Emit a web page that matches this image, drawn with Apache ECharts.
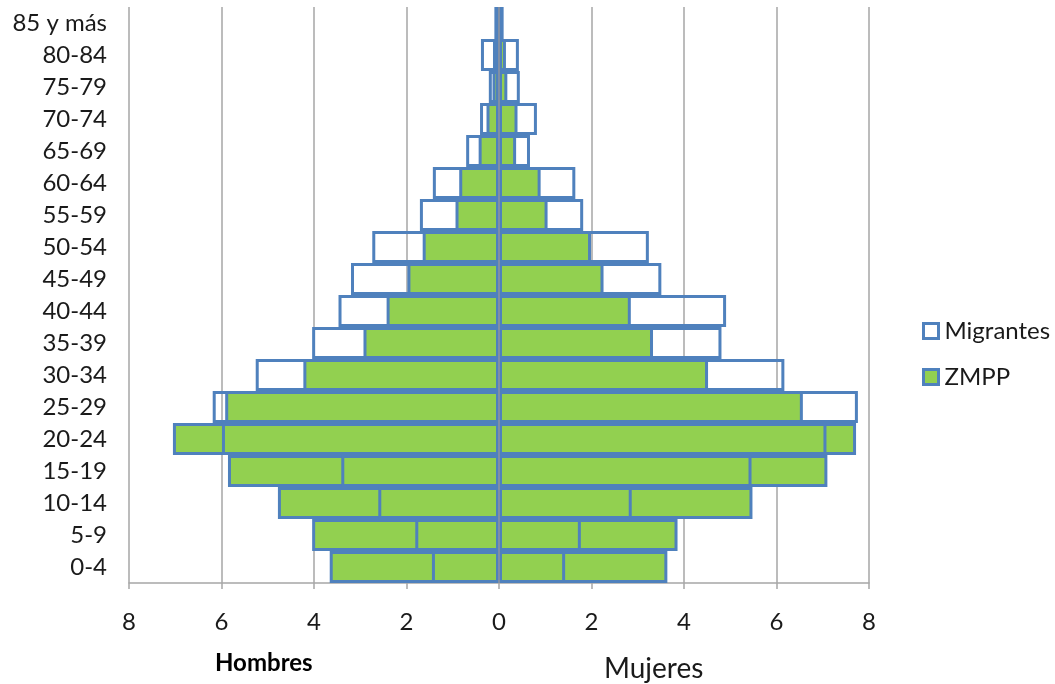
<!DOCTYPE html>
<html>
<head>
<meta charset="utf-8">
<script src="https://cdn.jsdelivr.net/npm/echarts@6/dist/echarts.min.js"></script>
<style>
html,body{margin:0;padding:0;background:#ffffff;}
#chart{width:1055px;height:684px;}
</style>
</head>
<body>
<div id="chart"></div>
<script>
// Age groups, bottom to top
const categories = ['0-4','5-9','10-14','15-19','20-24','25-29','30-34','35-39','40-44','45-49','50-54','55-59','60-64','65-69','70-74','75-79','80-84','85 y más'];
// Percentages
const zmppHombres = [3.66, 4.04, 4.78, 5.86, 7.05, 5.92, 4.23, 2.93, 2.43, 1.98, 1.65, 0.94, 0.86, 0.44, 0.27, 0.14, 0.13, 0.07];
const zmppMujeres = [3.64, 3.86, 5.48, 7.10, 7.72, 6.57, 4.52, 3.33, 2.85, 2.26, 1.99, 1.05, 0.90, 0.37, 0.40, 0.18, 0.15, 0.06];
const migHombres  = [1.45, 1.81, 2.61, 3.41, 5.99, 6.19, 5.26, 4.04, 3.47, 3.20, 2.74, 1.71, 1.43, 0.71, 0.41, 0.22, 0.39, 0.10];
const migMujeres  = [1.43, 1.77, 2.87, 5.46, 7.08, 7.76, 6.17, 4.81, 4.91, 3.51, 3.24, 1.82, 1.65, 0.67, 0.82, 0.45, 0.43, 0.10];
const xTicks = { min: -8, max: 8, interval: 2 };
const seriesNames = ['Migrantes', 'ZMPP'];
const sideLabels = ['Hombres', 'Mujeres'];

const FONT = 'Lato';
const BLUE = '#4f81bd';
const GREEN = '#92d050';
const GRID = '#a6a6a6';

const chart = echarts.init(document.getElementById('chart'), null, {renderer: 'canvas'});

function barSeries(name, data, fill) {
  return {
    name: name,
    type: 'bar',
    data: data,
    barGap: '-100%',
    barCategoryGap: '0%',
    itemStyle: { color: fill, borderColor: BLUE, borderWidth: 3 },
    emphasis: { disabled: true },
    animation: false
  };
}

const option = {
  backgroundColor: '#ffffff',
  animation: false,
  grid: { left: 129, right: 186, top: 7, bottom: 101, containLabel: false },
  legend: {
    data: seriesNames,
    orient: 'vertical',
    left: 917,
    top: 314,
    itemWidth: 15,
    itemHeight: 15,
    itemGap: 22,
    icon: 'rect',
    itemStyle: { borderWidth: 3 },
    textStyle: { fontFamily: FONT, fontSize: 24, color: '#1a1a1a', padding: [0,0,0,1] }
  },
  xAxis: {
    type: 'value',
    min: xTicks.min,
    max: xTicks.max,
    interval: xTicks.interval,
    axisLine: { show: true, onZero: false, lineStyle: { color: GRID, width: 1.5 } },
    axisTick: { show: true, length: 6, lineStyle: { color: GRID, width: 1.5 } },
    splitLine: { show: true, lineStyle: { color: GRID, width: 1.5 } },
    axisLabel: {
      margin: 27,
      fontFamily: FONT, fontSize: 24, color: '#1a1a1a',
      formatter: v => String(Math.abs(v))
    }
  },
  yAxis: {
    type: 'category',
    data: categories,
    axisLine: { show: false },
    axisTick: { show: false },
    axisLabel: { margin: 22, fontFamily: FONT, fontSize: 24, color: '#1a1a1a' }
  },
  series: [
    barSeries(seriesNames[1], zmppHombres.map(v => -v), GREEN),
    barSeries(seriesNames[1], zmppMujeres, GREEN),
    barSeries(seriesNames[0], migHombres.map(v => -v), 'rgba(255,255,255,0)'),
    Object.assign(barSeries(seriesNames[0], migMujeres, 'rgba(255,255,255,0)'), {
      markLine: {
        silent: true,
        symbol: 'none',
        label: { show: false },
        lineStyle: { color: '#7f8fa6', width: 2, type: 'solid' },
        data: [{ xAxis: 0 }],
        animation: false
      }
    })
  ],
  graphic: [
    { type: 'text', left: 215, top: 651, style: { text: sideLabels[0], fontFamily: FONT, fontWeight: 'bold', fontSize: 24, fill: '#000' } },
    { type: 'text', left: 604, top: 655, style: { text: sideLabels[1], fontFamily: FONT, fontSize: 28, fill: '#1a1a1a' } }
  ]
};
chart.setOption(option);
</script>
</body>
</html>
